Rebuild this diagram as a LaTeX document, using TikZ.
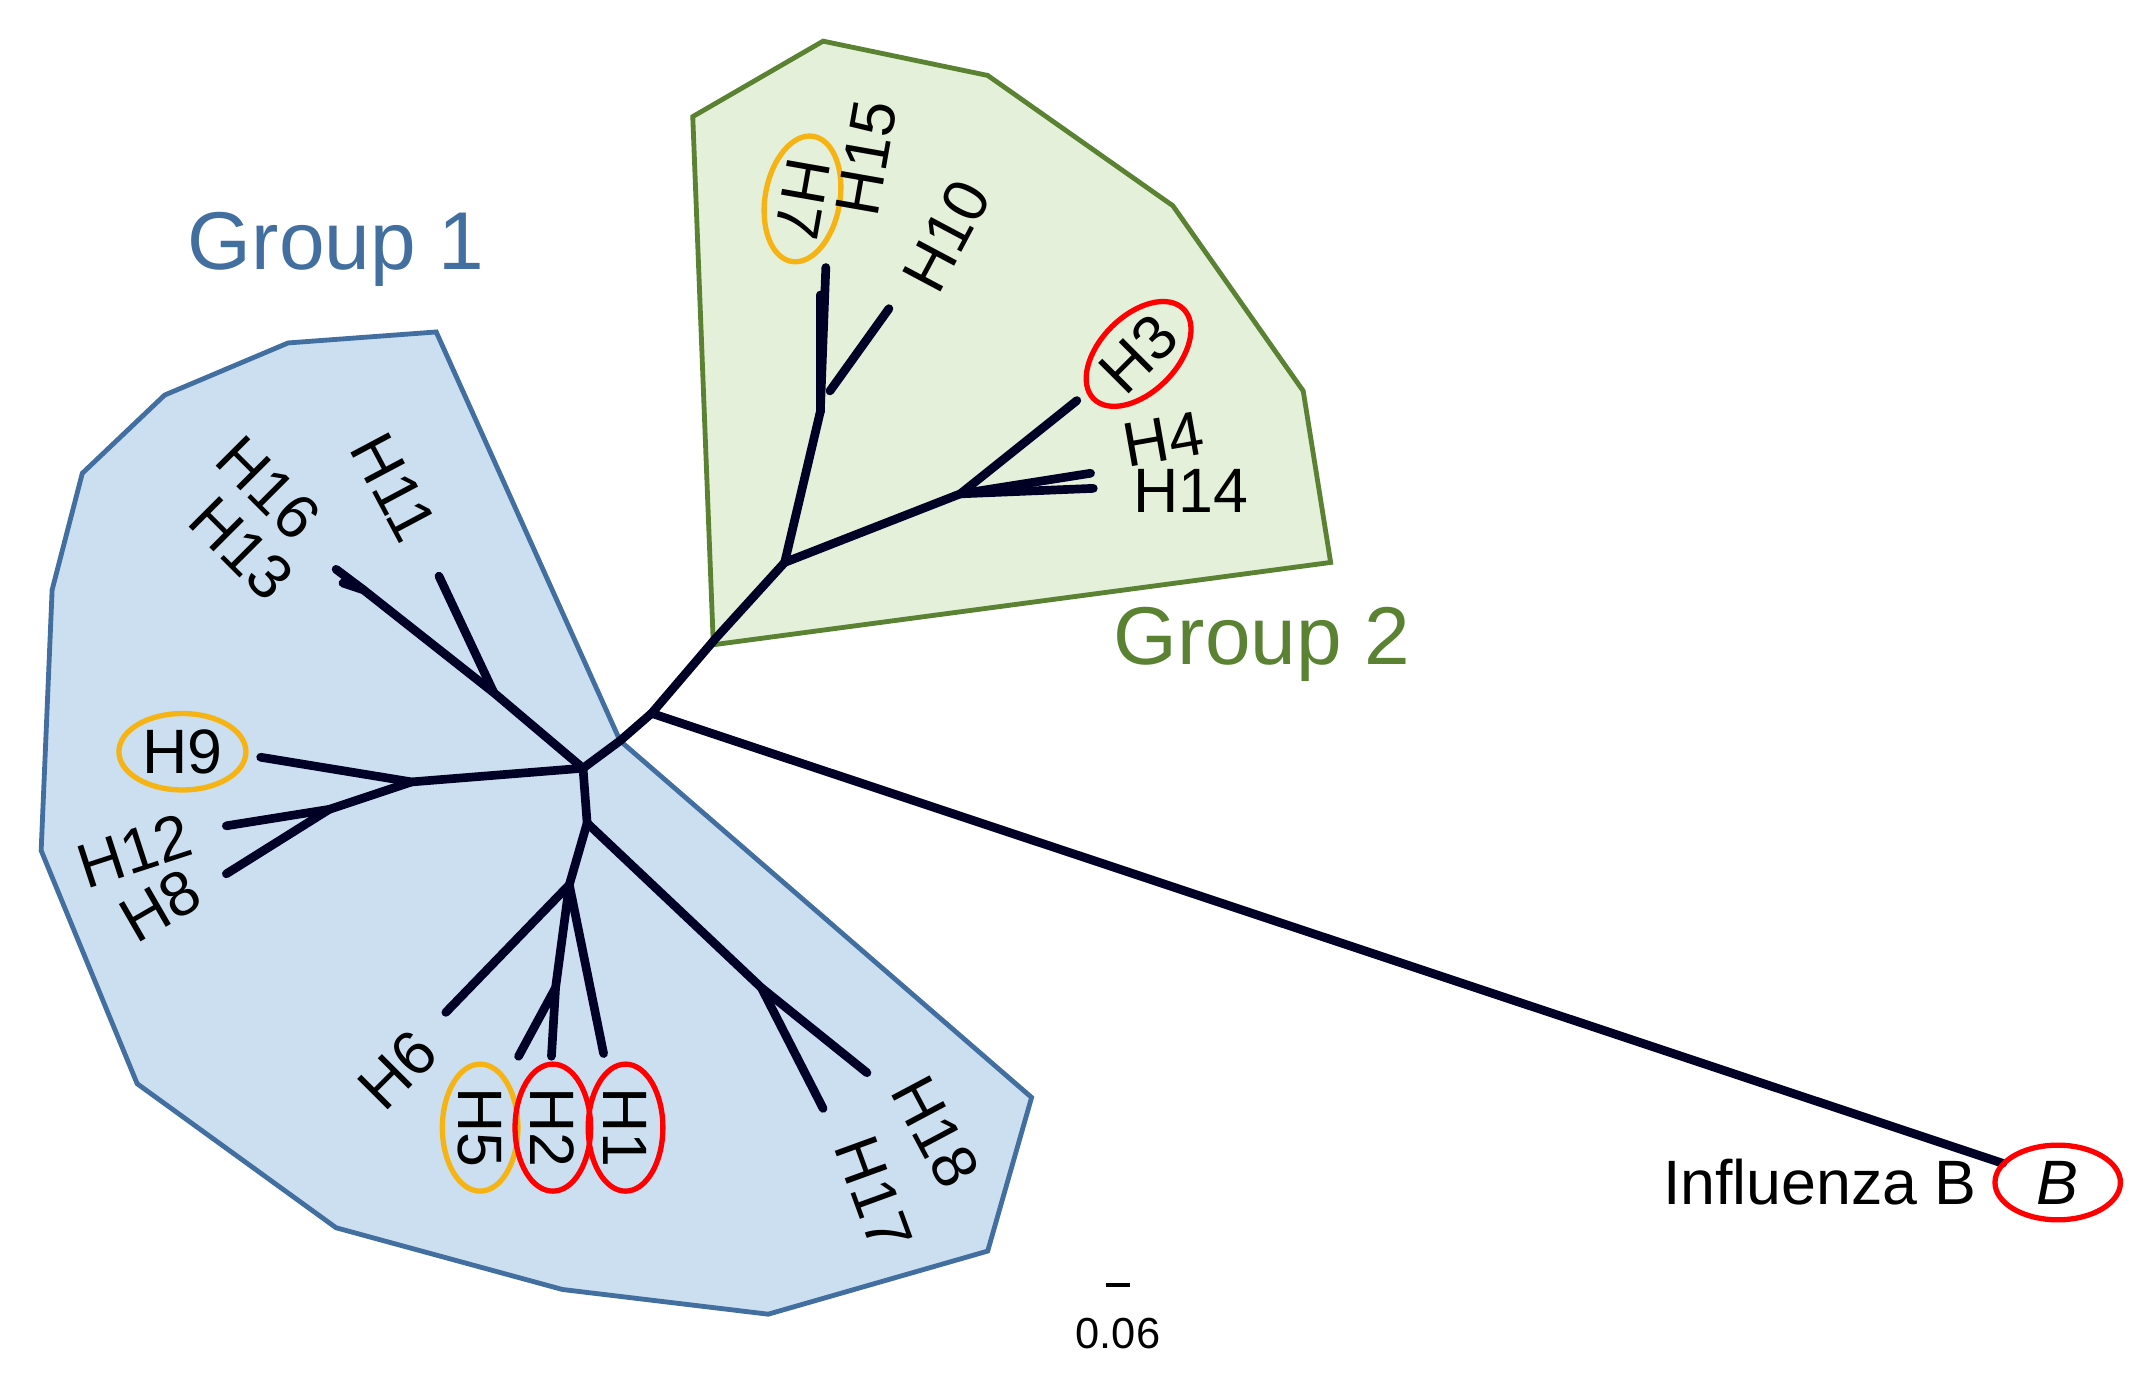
\documentclass[tikz,border=0pt]{standalone}
\usepackage{fontspec}
\setmainfont{Liberation Sans}
\usetikzlibrary{positioning,shapes.geometric}
\definecolor{gonefill}{RGB}{204,223,240}
\definecolor{gonedraw}{RGB}{66,110,160}
\definecolor{gtwofill}{RGB}{229,240,219}
\definecolor{gtwodraw}{RGB}{90,130,50}
\definecolor{orng}{RGB}{245,180,20}
\tikzset{
  branch/.style={line width=1.8pt, color=black!85!blue, line cap=round},
  lab/.style={font=\fontsize{13}{13}\selectfont, inner sep=1pt},
  ring/.style={ellipse, draw=#1, line width=1.1pt, inner sep=1pt}
}
\begin{document}
\begin{tikzpicture}[x=0.01cm,y=-0.01cm]
  \useasboundingbox (0,0) rectangle (1560,1006);

  % clade hulls
  \fill[gonefill, draw=gonedraw, line width=1pt] (318,242) -- (452,540) -- (752,800) -- (720,912)
    -- (560,958) -- (410,940) -- (245,895) -- (100,790) -- (30,620) -- (38,430) -- (60,345)
    -- (120,288) -- (210,250) -- cycle;
  \fill[gtwofill, draw=gtwodraw, line width=1pt] (505,85) -- (600,30) -- (720,55) -- (855,150)
    -- (950,285) -- (970,410) -- (520,470) -- cycle;

  % inner nodes
  \coordinate (root) at (475,520);
  \coordinate (gtwo) at (522,465);
  \coordinate (atwo) at (572,410);
  \coordinate (aseven) at (598,300);
  \coordinate (athree) at (700,360);
  \coordinate (gone) at (425,560);
  \coordinate (asixteen) at (360,505);
  \coordinate (asub) at (265,430);
  \coordinate (anine) at (300,570);
  \coordinate (atwelve) at (240,590);
  \coordinate (alow) at (428,600);
  \coordinate (asix) at (415,645);
  \coordinate (afive) at (405,720);
  \coordinate (aeighteen) at (555,720);

  % tips
  \coordinate (tseven) at (602,195);
  \coordinate (tfifteen) at (598,215);
  \coordinate (tten) at (648,225);
  \coordinate (tthree) at (785,292);
  \coordinate (tfour) at (795,345);
  \coordinate (tfourteen) at (797,356);
  \coordinate (tb) at (1460,848);
  \coordinate (tsixteen) at (245,415);
  \coordinate (tthirteen) at (250,425);
  \coordinate (televen) at (320,420);
  \coordinate (tnine) at (190,552);
  \coordinate (ttwelve) at (165,602);
  \coordinate (teight) at (165,637);
  \coordinate (tsix) at (325,738);
  \coordinate (tfive) at (378,770);
  \coordinate (ttwo) at (402,770);
  \coordinate (tone) at (440,768);
  \coordinate (teighteen) at (632,782);
  \coordinate (tseventeen) at (600,808);

  % branches
  \draw[branch] (tb) -- (root) -- (gtwo) -- (atwo) -- (aseven) -- (tseven);
  \draw[branch] (aseven) -- (tfifteen);
  \draw[branch] (605,285) -- (tten);
  \draw[branch] (atwo) -- (athree) -- (tthree);
  \draw[branch] (athree) -- (tfour);
  \draw[branch] (athree) -- (tfourteen);
  \draw[branch] (root) -- (452,540) -- (gone) -- (asixteen) -- (asub) -- (tsixteen);
  \draw[branch] (asub) -- (tthirteen);
  \draw[branch] (asixteen) -- (televen);
  \draw[branch] (gone) -- (anine) -- (tnine);
  \draw[branch] (anine) -- (atwelve) -- (ttwelve);
  \draw[branch] (atwelve) -- (teight);
  \draw[branch] (gone) -- (alow) -- (asix) -- (tsix);
  \draw[branch] (asix) -- (afive) -- (tfive);
  \draw[branch] (afive) -- (ttwo);
  \draw[branch] (asix) -- (tone);
  \draw[branch] (alow) -- (aeighteen) -- (teighteen);
  \draw[branch] (aeighteen) -- (tseventeen);

  % tip labels
  \node[lab, rotate=-45] (lsixteen) at (196,356) {H16};
  \node[lab, rotate=-45] (lthirteen) at (176,400) {H13};
  \node[lab, rotate=-62] (leleven) at (287,355) {H11};
  \node[lab, ring=orng] (lnine) at (133,548) {H9};
  \node[lab, rotate=18] (ltwelve) at (98,620) {H12};
  \node[lab, rotate=30] (leight) at (117,660) {H8};
  \node[lab, rotate=45] (lsix) at (290,780) {H6};
  \node[lab, rotate=-90, ring=orng] (lfive) at (350,822) {H5};
  \node[lab, rotate=-90, ring=red] (ltwo) at (403,822) {H2};
  \node[lab, rotate=-90, ring=red] (lone) at (456,822) {H1};
  \node[lab, rotate=-62] (leighteen) at (682,825) {H18};
  \node[lab, rotate=-70] (lseventeen) at (637,870) {H17};
  \node[lab, rotate=-100, ring=orng] (lseven) at (585,145) {H7};
  \node[lab, rotate=80] (lfifteen) at (632,115) {H15};
  \node[lab, rotate=62] (lten) at (690,172) {H10};
  \node[lab, rotate=45, ring=red] (lthree) at (830,258) {H3};
  \node[lab, rotate=10] (lfour) at (848,320) {H4};
  \node[lab] (lfourteen) at (868,358) {H14};
  \node[lab, ring=red, minimum width=26pt, font=\fontsize{13}{13}\selectfont\itshape] (lb) at (1500,862) {B};
  \node[lab, left=2pt of lb] (linfb) {Influenza B};

  % group titles
  \node[font=\fontsize{17}{17}\selectfont, text=gonedraw] (gonetitle) at (245,182) {Group 1};
  \node[font=\fontsize{17}{17}\selectfont, text=gtwodraw] (gtwotitle) at (920,470) {Group 2};

  % scale bar
  \coordinate (sbl) at (806,937);
  \coordinate (sbr) at (824,937);
  \draw[line width=0.8pt] (sbl) -- (sbr);
  \node[font=\fontsize{9}{9}\selectfont] (sblab) at (815,972) {0.06};
\end{tikzpicture}
\end{document}
